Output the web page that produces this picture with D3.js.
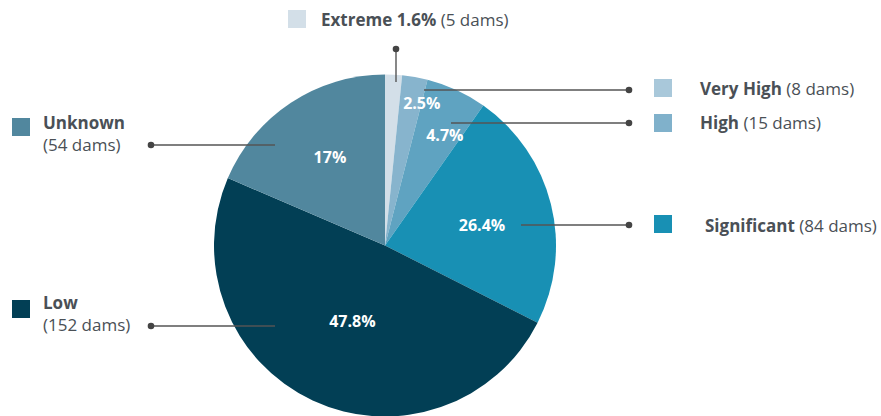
<!DOCTYPE html>
<html>
<head>
<meta charset="utf-8">
<script src="https://cdn.jsdelivr.net/npm/d3@7"></script>
<style>
  body { margin: 0; background: #fff; }
  text { font-family: "Open Sans", sans-serif; }
</style>
</head>
<body>
<svg id="chart"></svg>
<script>
// hazard categories, clockwise from 12 o'clock
const categories = ["Extreme", "Very High", "High", "Significant", "Low", "Unknown"];
const dams = [5, 8, 15, 84, 152, 54];
const pctLabels = ["1.6%", "2.5%", "4.7%", "26.4%", "47.8%", "17%"];
// slice sizes as drawn in the picture (percent of the circle)
const sliceShare = [1.6, 2.4, 5.75, 22.7, 49.0, 18.55];
const sliceColors = ["#d3dfe8", "#87b4cd", "#5fa3c1", "#1890b4", "#023f55", "#51879e"];
const legendColors = ["#d3dfe8", "#a9c8da", "#80b1cb", "#1890b4", "#023f55", "#51879e"];

const width = 881, height = 416;
const cx = 385, cy = 245.5, radius = 171;

const svg = d3.select("#chart").attr("width", width).attr("height", height);

const pie = d3.pie().sort(null).value(d => d)(sliceShare);
const arc = d3.arc().innerRadius(0).outerRadius(radius);

const g = svg.append("g").attr("transform", `translate(${cx},${cy})`);

g.selectAll("path")
  .data(pie)
  .join("path")
  .attr("d", arc)
  .attr("fill", (d, i) => sliceColors[i]);

// label radius & angle nudge for each slice (Extreme has no inner label)
const labelPos = [null, {r: 147, a: 0.077}, {r: 125, a: 0.067}, {r: 99, a: 0.044}, {r: 83, a: -0.032}, {r: 104, a: 0.025}];
pie.forEach((d, i) => {
  if (!labelPos[i]) return;
  const a = (d.startAngle + d.endAngle) / 2 + labelPos[i].a;
  g.append("text")
    .attr("x", Math.sin(a) * labelPos[i].r)
    .attr("y", -Math.cos(a) * labelPos[i].r)
    .attr("dy", "0.35em")
    .attr("text-anchor", "middle")
    .attr("fill", "#fff")
    .attr("font-weight", 700)
    .attr("font-size", 16)
    .text(pctLabels[i]);
});

// leader lines [x1,y1,x2,y2] from dot to slice
const leaders = [
  [396, 49, 396, 82],
  [629, 90, 424, 90],
  [629, 123, 451, 123],
  [629, 225, 521, 225],
  [151, 326, 275, 326],
  [151, 145, 275, 145]
];
const lg = svg.append("g");
lg.selectAll("line")
  .data(leaders)
  .join("line")
  .attr("x1", d => d[0]).attr("y1", d => d[1])
  .attr("x2", d => d[2]).attr("y2", d => d[3])
  .attr("stroke", "#555")
  .attr("stroke-width", 1.4);
lg.selectAll("circle")
  .data(leaders)
  .join("circle")
  .attr("cx", d => d[0]).attr("cy", d => d[1])
  .attr("r", 3.3)
  .attr("fill", "#444");

// legend layout: square x,y ; text x, baseline
const legendPos = [
  {sx: 288, sy: 10, tx: 321, ty: 26, title: "Extreme 1.6%"},
  {sx: 654, sy: 79, tx: 700, ty: 95},
  {sx: 654, sy: 114, tx: 700, ty: 129},
  {sx: 654, sy: 215, tx: 705, ty: 232},
  {sx: 12, sy: 300, tx: 43, ty: 309, wrap: true},
  {sx: 12, sy: 118, tx: 43, ty: 129, wrap: true}
];
const textColor = "#4a5056";
categories.forEach((c, i) => {
  const p = legendPos[i];
  svg.append("rect")
    .attr("x", p.sx).attr("y", p.sy)
    .attr("width", 18).attr("height", 18)
    .attr("fill", legendColors[i]);
  const t = svg.append("text")
    .attr("x", p.tx).attr("y", p.ty)
    .attr("font-size", 17)
    .attr("fill", textColor);
  t.append("tspan").attr("font-weight", 700).text(p.title || c);
  if (p.wrap) {
    svg.append("text")
      .attr("x", p.tx).attr("y", p.ty + 22)
      .attr("font-size", 17)
      .attr("fill", textColor)
      .text(`(${dams[i]} dams)`);
  } else {
    t.append("tspan").text(` (${dams[i]} dams)`);
  }
});
</script>
</body>
</html>
